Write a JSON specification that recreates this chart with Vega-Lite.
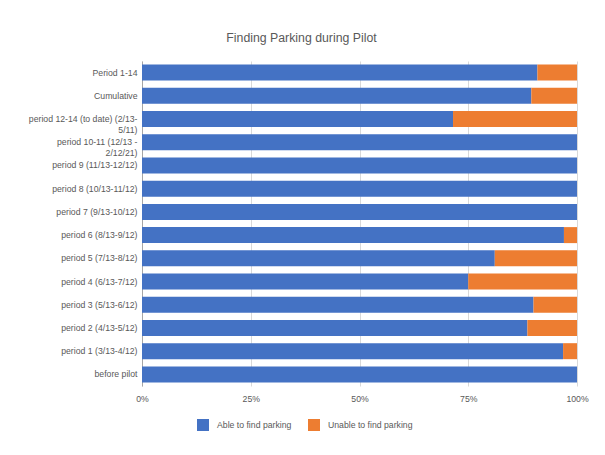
{
  "$schema": "https://vega.github.io/schema/vega-lite/v6.json",
  "width": 435,
  "height": 325,
  "autosize": "none",
  "padding": {"left": 142, "top": 61, "right": 28, "bottom": 69},
  "background": "white",
  "title": {
    "text": "Finding Parking during Pilot",
    "font": "Liberation Sans",
    "fontSize": 12.3,
    "fontWeight": "normal",
    "color": "#595959",
    "anchor": "middle",
    "dx": -58,
    "offset": 17
  },
  "config": {
    "view": {"stroke": null},
    "font": "Liberation Sans",
    "axis": {
      "labelFont": "Liberation Sans",
      "labelFontSize": 8.7,
      "labelColor": "#595959",
      "title": null
    }
  },
  "data": {
    "values": [
      {"period": "Period 1-14", "response": "Able to find parking", "share": 0.909},
      {"period": "Period 1-14", "response": "Unable to find parking", "share": 0.091},
      {"period": "Cumulative", "response": "Able to find parking", "share": 0.895},
      {"period": "Cumulative", "response": "Unable to find parking", "share": 0.105},
      {"period": "period 12-14 (to date) (2/13-5/11)", "response": "Able to find parking", "share": 0.715},
      {"period": "period 12-14 (to date) (2/13-5/11)", "response": "Unable to find parking", "share": 0.285},
      {"period": "period 10-11 (12/13 - 2/12/21)", "response": "Able to find parking", "share": 1.0},
      {"period": "period 10-11 (12/13 - 2/12/21)", "response": "Unable to find parking", "share": 0.0},
      {"period": "period 9 (11/13-12/12)", "response": "Able to find parking", "share": 1.0},
      {"period": "period 9 (11/13-12/12)", "response": "Unable to find parking", "share": 0.0},
      {"period": "period 8 (10/13-11/12)", "response": "Able to find parking", "share": 1.0},
      {"period": "period 8 (10/13-11/12)", "response": "Unable to find parking", "share": 0.0},
      {"period": "period 7 (9/13-10/12)", "response": "Able to find parking", "share": 1.0},
      {"period": "period 7 (9/13-10/12)", "response": "Unable to find parking", "share": 0.0},
      {"period": "period 6 (8/13-9/12)", "response": "Able to find parking", "share": 0.97},
      {"period": "period 6 (8/13-9/12)", "response": "Unable to find parking", "share": 0.03},
      {"period": "period 5 (7/13-8/12)", "response": "Able to find parking", "share": 0.811},
      {"period": "period 5 (7/13-8/12)", "response": "Unable to find parking", "share": 0.189},
      {"period": "period 4 (6/13-7/12)", "response": "Able to find parking", "share": 0.75},
      {"period": "period 4 (6/13-7/12)", "response": "Unable to find parking", "share": 0.25},
      {"period": "period 3 (5/13-6/12)", "response": "Able to find parking", "share": 0.9},
      {"period": "period 3 (5/13-6/12)", "response": "Unable to find parking", "share": 0.1},
      {"period": "period 2 (4/13-5/12)", "response": "Able to find parking", "share": 0.886},
      {"period": "period 2 (4/13-5/12)", "response": "Unable to find parking", "share": 0.114},
      {"period": "period 1 (3/13-4/12)", "response": "Able to find parking", "share": 0.968},
      {"period": "period 1 (3/13-4/12)", "response": "Unable to find parking", "share": 0.032},
      {"period": "before pilot", "response": "Able to find parking", "share": 1.0},
      {"period": "before pilot", "response": "Unable to find parking", "share": 0.0}
    ]
  },
  "mark": {"type": "bar", "size": 16},
  "encoding": {
    "y": {
      "field": "period",
      "type": "nominal",
      "sort": null,
      "scale": {"paddingInner": 0.31, "paddingOuter": 0.155},
      "axis": {
        "ticks": false,
        "domain": true,
        "domainColor": "#a6a6a6",
        "domainWidth": 1,
        "grid": false,
        "labelPadding": 5,
        "labelLineHeight": 10.5,
        "labelLimit": 200,
        "labelExpr": "datum.value == 'period 12-14 (to date) (2/13-5/11)' ? ['period 12-14 (to date) (2/13-', '5/11)'] : datum.value == 'period 10-11 (12/13 - 2/12/21)' ? ['period 10-11 (12/13 -', '2/12/21)'] : datum.value"
      }
    },
    "x": {
      "field": "share",
      "type": "quantitative",
      "stack": "zero",
      "scale": {"domain": [0, 1], "nice": false},
      "axis": {
        "format": "%",
        "values": [0, 0.25, 0.5, 0.75, 1],
        "ticks": false,
        "domain": false,
        "grid": true,
        "gridColor": "#d9d9d9",
        "gridWidth": 1,
        "labelFlush": false,
        "labelPadding": 8
      }
    },
    "color": {
      "field": "response",
      "type": "nominal",
      "scale": {
        "domain": ["Able to find parking", "Unable to find parking"],
        "range": ["#4472C4", "#ED7D31"]
      },
      "legend": {
        "title": null,
        "orient": "none",
        "legendX": 55,
        "legendY": 358,
        "direction": "horizontal",
        "symbolType": "square",
        "symbolSize": 144,
        "symbolStrokeWidth": 0,
        "symbolOpacity": 1,
        "labelFont": "Liberation Sans",
        "labelFontSize": 8.7,
        "labelColor": "#595959",
        "labelOffset": 8,
        "columnPadding": 16
      }
    },
    "order": {"field": "response", "sort": "ascending"}
  }
}
